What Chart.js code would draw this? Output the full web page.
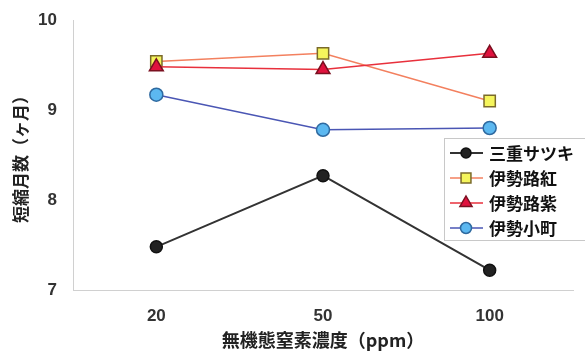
<!DOCTYPE html>
<html>
<head>
<meta charset="utf-8">
<script src="https://cdn.jsdelivr.net/npm/chart.js@4/dist/chart.umd.min.js"></script>
<style>
  html, body { margin: 0; padding: 0; background: #fff; }
  #wrap { width: 585px; height: 351px; }
</style>
</head>
<body>
<div id="wrap"><canvas id="appChart"></canvas></div>
<script>
// DATA
const categories = ['20', '50', '100'];
const mieSatsuki = [7.48, 8.27, 7.22];
const isejiBeni = [9.54, 9.63, 9.10];
const isejiMurasaki = [9.48, 9.45, 9.63];
const iseKomachi = [9.17, 8.78, 8.80];
const seriesNames = ['三重サツキ', '伊勢路紅', '伊勢路紫', '伊勢小町'];
const yTicks = [7, 8, 9, 10];
const xTitle = '無機態窒素濃度（ppm）';
const yTitle = '短縮月数（ヶ月）';

// STYLES
const FONT_JP = '"Noto Sans CJK JP", sans-serif';
const FONT_NUM = '"Liberation Sans", Arial, sans-serif';

function drawMarker(ctx, style, x, y, r) {
    ctx.beginPath();
    if (style === 'rect') {
        const s = r * Math.SQRT1_2 * 2;
        ctx.rect(x - s / 2, y - s / 2, s, s);
    } else if (style === 'triangle') {
        ctx.moveTo(x, y - r);
        ctx.lineTo(x + r * 0.866, y + r * 0.5);
        ctx.lineTo(x - r * 0.866, y + r * 0.5);
        ctx.closePath();
    } else {
        ctx.arc(x, y, r, 0, Math.PI * 2);
    }
    ctx.fill();
    ctx.stroke();
}

// legend drawn inside the plot, line sample + marker like the original
const legendBox = {
    id: 'legendBox',
    afterDraw(chart) {
        const ctx = chart.ctx;
        const x0 = 444, y0 = 138, w = 141, h = 103;
        ctx.save();
        ctx.fillStyle = '#fff';
        ctx.fillRect(x0, y0, w, h);
        ctx.strokeStyle = '#c8c8c8';
        ctx.lineWidth = 1;
        ctx.strokeRect(x0 + 0.5, y0 + 0.5, w, h - 1);
        chart.data.datasets.forEach((ds, i) => {
            const y = y0 + 15 + i * 25;
            ctx.strokeStyle = ds.borderColor;
            ctx.lineWidth = ds.borderWidth;
            ctx.beginPath();
            ctx.moveTo(450, y);
            ctx.lineTo(483, y);
            ctx.stroke();
            ctx.fillStyle = ds.pointBackgroundColor;
            ctx.strokeStyle = ds.pointBorderColor;
            ctx.lineWidth = ds.pointBorderWidth;
            drawMarker(ctx, ds.pointStyle, 466, y, ds.pointRadius - 1);
            ctx.fillStyle = '#111';
            ctx.font = 'bold 17px ' + FONT_JP;
            ctx.textBaseline = 'middle';
            ctx.textAlign = 'left';
            ctx.fillText(seriesNames[i], 489, y + 1);
        });
        ctx.restore();
    }
};

function makeSet(data, line, fill, border, style, radius, width, order) {
    return {
        data,
        borderColor: line,
        borderWidth: width,
        pointBackgroundColor: fill,
        pointBorderColor: border,
        pointBorderWidth: 1.5,
        pointStyle: style,
        pointRadius: radius,
        pointHoverRadius: radius,
        order,
        tension: 0,
    };
}

const datasets = [
    makeSet(mieSatsuki, '#333333', '#222222', '#111111', 'circle', 6, 2, 0),
    makeSet(isejiBeni, '#f3805f', '#f5f55c', '#7a6a2a', 'rect', 8, 1.5, 2),
    makeSet(isejiMurasaki, '#e8303c', '#e0123e', '#7a1020', 'triangle', 8, 1.5, 1),
    makeSet(iseKomachi, '#4a56b4', '#5cb8f0', '#2f6aa0', 'circle', 6.5, 1.5, 3),
];

const ctx = document.getElementById('appChart').getContext('2d');
new Chart(ctx, {
    type: 'line',
    data: {labels: categories, datasets},
    options: {
        responsive: true,
        maintainAspectRatio: false,
        animation: false,
        layout: {autoPadding: false, padding: {top: 20, right: 12, left: 10, bottom: 0}},
        plugins: {
            legend: {display: false},
            tooltip: {enabled: false},
        },
        scales: {
            x: {
                offset: true,
                grid: {display: false, drawTicks: false},
                border: {color: '#d0d0d0', width: 1},
                ticks: {
                    padding: 16,
                    color: '#333',
                    font: {family: FONT_NUM, size: 17, weight: 'bold'},
                },
                title: {
                    display: true,
                    text: xTitle,
                    color: '#222',
                    padding: {top: 0, bottom: 0},
                    font: {family: FONT_JP, size: 18, weight: 'bold'},
                },
                afterFit(s) { s.height = 61; s.paddingLeft = 0; s.paddingRight = 0; },
            },
            y: {
                min: 7,
                max: 10,
                afterBuildTicks(s) { s.ticks = yTicks.map(v => ({value: v})); },
                grid: {display: false, drawTicks: false},
                border: {color: '#d0d0d0', width: 1},
                ticks: {
                    padding: 16,
                    color: '#333',
                    font: {family: FONT_NUM, size: 17, weight: 'bold'},
                },
                title: {
                    display: true,
                    text: yTitle,
                    color: '#222',
                    padding: {top: 0, bottom: 0},
                    font: {family: FONT_JP, size: 17, weight: 'bold'},
                },
                afterFit(s) { s.width = 63; s.paddingTop = 0; s.paddingBottom = 0; },
            },
        },
    },
    plugins: [legendBox],
});
</script>
</body>
</html>
